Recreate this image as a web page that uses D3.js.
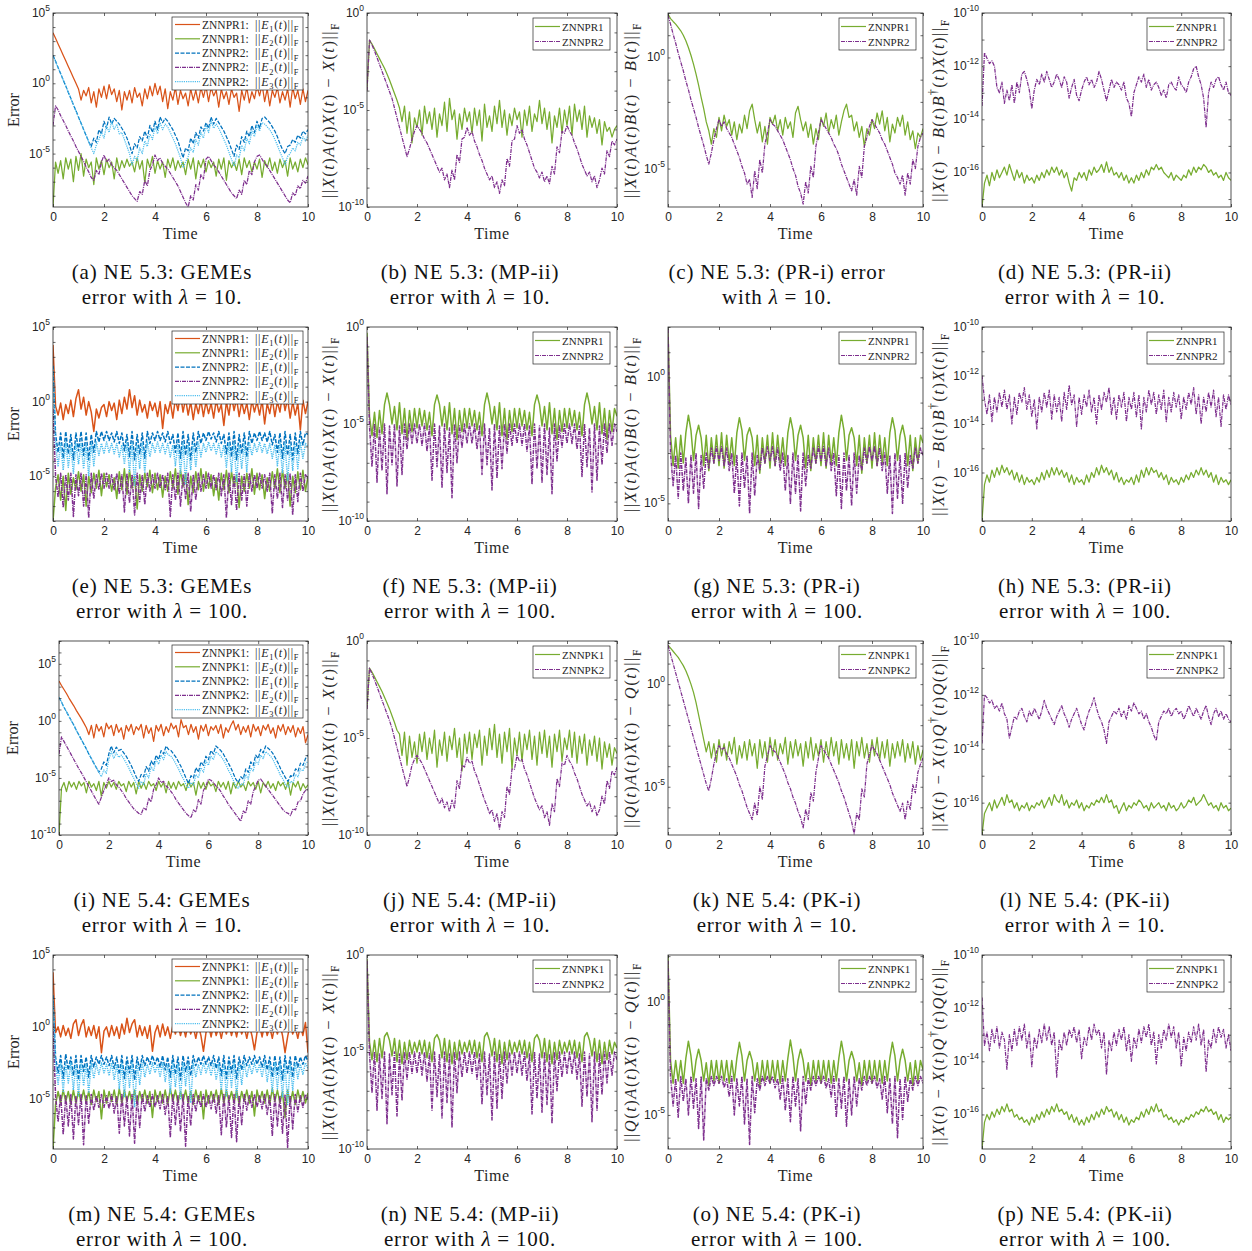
<!DOCTYPE html>
<html lang="en">
<head>
<meta charset="utf-8">
<title>ZNN error panels</title>
<script src="https://d3js.org/d3.v7.min.js"></script>
<style>
  body { margin: 0; background: #fff; }
  text { white-space: pre; }
</style>
</head>
<body>
<script>
// sample times 0..10 (step 0.1)
var T = d3.range(101).map(function(i) { return i / 10; });

// all series are log10 of the error, one value per sample time
// ---- (a) NE 5.3 GEMEs, lambda = 10
var a_o = [3.6,3.2,2.8,2.4,2.0,1.6,1.2,0.8,0.4,0.0,
  -0.4,-1.2,-0.5,-0.9,-0.3,-1.4,-0.6,-1.7,-0.4,-1.0,
  -0.2,-1.1,-0.1,-0.8,-0.4,-1.3,-0.5,-1.9,-0.6,-1.2,
  -0.5,-1.4,-0.3,-1.0,-0.7,-1.6,-0.4,-1.1,-0.2,-0.9,
  0.0,-0.8,-0.2,-1.3,-0.4,-1.8,-0.6,-1.2,-0.3,-1.5,
  -0.5,-1.1,-0.7,-1.6,-0.4,-1.2,-0.5,-1.4,-0.3,-1.0,
  -0.2,-1.3,-0.3,-0.9,-0.5,-1.7,-0.4,-1.1,-0.6,-1.5,
  -0.4,-1.0,-0.7,-2.0,-0.5,-1.2,-0.3,-1.4,-0.6,-1.1,
  -0.2,-0.9,-0.1,-1.3,-0.4,-1.6,-0.5,-1.0,-0.3,-1.4,
  -0.6,-1.2,-0.4,-1.7,-0.3,-1.1,-0.5,-1.5,-0.4,-1.3, -0.5];
var a_g = [-8.8,-5.6,-6.4,-5.5,-6.8,-5.3,-6.1,-5.4,-7.0,-5.2,
  -6.2,-5.0,-6.6,-5.4,-6.0,-5.6,-7.2,-5.3,-6.1,-5.5,
  -6.5,-5.4,-6.0,-5.6,-6.8,-5.3,-6.2,-5.5,-6.0,-5.4,
  -5.9,-5.6,-6.3,-5.3,-6.1,-5.5,-7.1,-5.4,-6.0,-5.2,
  -6.4,-5.5,-6.1,-5.6,-6.7,-5.4,-6.0,-5.3,-6.2,-5.5,
  -6.0,-5.6,-6.5,-5.4,-6.1,-5.3,-6.8,-5.5,-6.0,-5.4,
  -6.3,-5.5,-6.0,-5.6,-6.6,-5.4,-6.1,-5.3,-6.9,-5.5,
  -6.0,-5.6,-6.2,-5.4,-6.5,-5.3,-6.0,-5.5,-6.3,-5.6,
  -6.1,-5.4,-6.7,-5.5,-6.0,-5.3,-6.2,-5.6,-6.4,-5.4,
  -6.0,-5.5,-6.6,-5.3,-6.1,-5.6,-6.3,-5.4,-6.0,-5.3, -5.8];
var a_b = [2.0,1.56,1.12,0.68,0.24,-0.2,-0.64,-1.08,-1.52,-1.96,
  -2.4,-2.84,-3.28,-3.72,-4.16,-4.5,-3.9,-4.2,-3.3,-3.6,
  -2.7,-3.2,-2.4,-2.9,-2.5,-2.7,-2.9,-3.2,-3.5,-3.9,
  -4.4,-5.0,-4.3,-4.6,-3.8,-4.1,-3.4,-3.9,-3.0,-3.5,
  -2.7,-3.3,-2.4,-2.8,-2.5,-2.7,-3.0,-3.3,-3.7,-4.1,
  -4.7,-5.3,-4.6,-4.8,-3.9,-4.3,-3.5,-3.9,-3.1,-3.4,
  -2.8,-3.2,-2.4,-2.9,-2.5,-2.8,-3.1,-3.4,-3.8,-4.2,
  -4.7,-5.2,-4.4,-4.7,-3.8,-4.2,-3.4,-3.8,-3.0,-3.5,
  -2.7,-3.2,-2.5,-2.4,-2.6,-2.8,-3.1,-3.4,-3.8,-4.3,
  -4.7,-5.0,-4.5,-4.4,-4.0,-4.2,-3.7,-3.9,-3.4,-3.6, -3.3];
var a_p = [-3.0,-1.6,-1.9,-2.3,-2.65,-3.0,-3.4,-3.75,-4.1,-4.5,
  -4.85,-5.2,-5.55,-5.95,-6.3,-6.7,-6.9,-6.2,-6.5,-5.6,
  -5.1,-5.6,-5.4,-5.8,-6.0,-6.2,-6.5,-6.8,-7.1,-7.4,
  -7.7,-8.0,-8.2,-8.4,-7.7,-7.9,-6.9,-7.3,-6.2,-5.8,
  -5.1,-5.5,-5.3,-5.7,-5.9,-6.1,-6.4,-6.7,-7.0,-7.3,
  -7.7,-8.1,-8.5,-8.8,-8.0,-8.3,-7.2,-7.6,-6.5,-6.8,
  -5.4,-5.2,-5.5,-5.8,-6.0,-6.3,-6.6,-6.9,-7.2,-7.5,
  -7.8,-8.0,-8.2,-7.6,-7.9,-6.9,-7.2,-6.2,-6.5,-5.6,
  -5.2,-5.1,-5.4,-5.7,-5.9,-6.2,-6.5,-6.8,-7.1,-7.4,
  -7.7,-8.0,-8.3,-8.5,-7.8,-8.0,-7.3,-7.5,-6.9,-7.1, -6.6];
var a_c = [2.0,1.56,1.12,0.68,0.24,-0.2,-0.64,-1.08,-1.52,-1.96,
  -2.4,-2.84,-3.28,-3.72,-4.16,-4.6,-5.0,-4.4,-4.0,-3.5,
  -3.9,-3.0,-3.5,-2.7,-3.3,-2.9,-3.6,-3.5,-4.0,-4.5,
  -5.0,-5.8,-5.2,-5.5,-4.6,-5.0,-4.1,-4.5,-3.6,-4.0,
  -3.1,-3.6,-2.8,-3.3,-2.9,-3.1,-3.5,-3.9,-4.3,-4.8,
  -5.3,-6.0,-5.6,-5.2,-4.6,-4.9,-4.0,-4.4,-3.5,-3.9,
  -3.0,-3.5,-2.7,-3.2,-2.9,-3.2,-3.6,-4.0,-4.4,-4.9,
  -5.4,-5.9,-5.1,-5.3,-4.4,-4.8,-3.9,-4.3,-3.4,-3.8,
  -3.0,-3.4,-2.8,-2.9,-3.1,-3.3,-3.6,-4.0,-4.4,-4.9,
  -5.3,-5.8,-5.2,-5.0,-4.6,-4.8,-4.2,-4.4,-3.8,-4.1, -3.7];

// ---- (b) MP-ii, lambda = 10
var b_g = [-4.0,-1.4,-1.6,-1.85,-2.1,-2.35,-2.6,-2.85,-3.15,-3.45,
  -3.8,-4.15,-4.5,-4.9,-5.6,-4.8,-6.2,-5.1,-6.7,-5.4,
  -5.9,-5.0,-6.3,-4.8,-5.7,-5.1,-6.0,-4.9,-6.4,-5.2,
  -5.8,-4.6,-6.1,-4.4,-5.5,-5.0,-6.5,-5.2,-6.0,-4.9,
  -5.6,-5.1,-6.2,-4.9,-5.8,-5.0,-6.6,-4.7,-5.9,-5.3,
  -6.1,-4.8,-5.7,-4.5,-5.9,-5.0,-6.3,-5.2,-5.8,-4.9,
  -5.5,-5.1,-6.4,-5.0,-5.8,-4.8,-6.1,-5.2,-5.6,-4.5,
  -5.7,-4.9,-6.0,-5.1,-6.7,-5.3,-5.9,-4.9,-6.2,-5.0,
  -5.8,-4.8,-6.3,-4.7,-5.6,-5.0,-6.0,-4.8,-6.4,-5.3,
  -5.9,-5.4,-6.2,-5.5,-6.8,-5.6,-6.1,-5.9,-6.4,-6.0, -5.8];
var b_p = [-4.0,-1.4,-1.65,-1.95,-2.3,-2.65,-3.0,-3.35,-3.7,-4.05,
  -4.4,-4.9,-5.4,-5.9,-6.4,-6.9,-7.4,-7.0,-6.5,-6.1,
  -5.8,-6.0,-6.2,-6.5,-6.7,-7.0,-7.3,-7.6,-7.9,-8.2,
  -8.0,-8.6,-8.3,-9.0,-8.1,-8.6,-7.3,-7.7,-6.5,-6.4,
  -5.9,-6.3,-6.1,-6.6,-6.9,-7.3,-7.6,-8.0,-8.3,-8.6,
  -8.4,-9.0,-8.7,-9.3,-8.6,-8.9,-7.5,-7.9,-6.6,-6.5,
  -5.8,-6.2,-6.0,-6.5,-6.8,-7.2,-7.6,-8.0,-8.2,-8.5,
  -8.2,-8.7,-8.4,-8.8,-7.9,-8.3,-6.9,-7.2,-6.1,-6.2,
  -5.8,-6.1,-6.3,-6.7,-7.0,-7.4,-7.8,-8.1,-8.4,-8.2,
  -8.7,-8.4,-9.0,-8.6,-8.0,-8.3,-7.1,-7.4,-6.6,-6.8, -6.5];

// ---- (c) PR-i, lambda = 10
var c_g = [1.95,1.75,1.62,1.5,1.35,1.2,1.0,0.75,0.45,0.1,
  -0.3,-0.75,-1.25,-1.8,-2.3,-2.9,-3.3,-3.9,-3.2,-3.6,
  -2.7,-3.3,-2.6,-3.1,-2.8,-3.5,-2.9,-3.7,-3.0,-3.4,
  -2.6,-3.2,-2.4,-2.1,-2.8,-3.4,-2.9,-3.8,-3.1,-3.9,
  -2.7,-3.0,-2.6,-3.3,-2.8,-3.5,-2.7,-3.2,-2.9,-3.6,
  -2.5,-2.2,-2.8,-3.3,-2.9,-3.6,-3.0,-3.9,-3.2,-3.7,
  -2.7,-3.1,-2.5,-3.4,-2.8,-3.2,-2.6,-3.5,-2.9,-2.4,
  -2.1,-2.7,-2.6,-3.3,-2.9,-3.6,-3.1,-4.0,-3.2,-3.5,
  -2.8,-3.2,-2.5,-3.0,-2.4,-3.3,-2.7,-3.8,-3.0,-3.4,
  -2.7,-3.1,-2.6,-3.5,-2.9,-3.7,-3.3,-4.1,-3.4,-3.6, -3.2];
var c_p = [1.9,1.5,1.05,0.65,0.2,-0.2,-0.6,-1.05,-1.45,-1.9,
  -2.3,-2.7,-3.15,-3.55,-3.95,-4.4,-4.8,-4.3,-3.7,-3.2,
  -2.8,-3.1,-2.9,-3.2,-3.4,-3.6,-3.9,-4.2,-4.5,-4.9,
  -5.2,-5.7,-5.5,-6.3,-5.1,-5.9,-4.6,-5.2,-3.9,-3.4,
  -2.8,-3.0,-3.1,-3.3,-3.5,-3.7,-4.0,-4.3,-4.6,-5.0,
  -5.3,-5.8,-6.1,-6.6,-5.6,-6.1,-4.9,-5.4,-4.0,-3.4,
  -2.8,-3.0,-3.2,-3.4,-3.6,-3.9,-4.1,-4.4,-4.8,-5.1,
  -5.4,-5.7,-6.0,-5.5,-6.2,-4.9,-5.4,-4.0,-3.6,-3.1,
  -2.8,-3.0,-3.2,-3.4,-3.7,-3.9,-4.2,-4.5,-4.8,-5.2,
  -5.4,-5.7,-5.3,-6.2,-5.2,-5.7,-4.6,-5.0,-4.0,-3.6, -3.4];

// ---- (d) PR-ii, lambda = 10
var d_g = [-17.3,-16.4,-16.1,-16.5,-16.0,-16.3,-15.9,-16.2,-16.0,-15.8,
  -16.1,-15.7,-16.0,-16.3,-15.9,-16.2,-16.0,-16.4,-16.1,-16.3,
  -16.2,-16.4,-16.1,-16.3,-16.0,-16.2,-15.9,-16.1,-15.8,-16.0,
  -15.8,-16.1,-15.9,-16.2,-16.0,-16.4,-16.7,-16.2,-16.3,-16.0,
  -16.2,-16.0,-16.3,-15.9,-16.1,-15.8,-16.0,-15.9,-15.7,-16.0,
  -15.6,-16.0,-15.8,-16.1,-16.0,-16.2,-16.0,-16.3,-16.1,-16.4,
  -16.2,-16.4,-16.1,-16.3,-16.0,-16.2,-15.9,-16.1,-15.8,-15.9,
  -15.7,-15.9,-15.8,-16.0,-16.1,-16.2,-16.0,-16.3,-16.1,-16.2,
  -16.3,-16.1,-16.2,-15.9,-16.1,-15.8,-16.0,-15.8,-15.9,-15.7,
  -15.8,-16.0,-15.9,-16.1,-16.0,-16.2,-16.1,-16.3,-16.0,-16.2, -16.3];
var d_p = [-13.5,-11.5,-11.7,-11.9,-11.8,-12.0,-12.8,-13.0,-12.6,-13.4,
  -12.9,-13.3,-12.7,-13.4,-12.6,-13.0,-12.3,-12.2,-12.5,-12.9,
  -13.6,-12.9,-12.5,-12.7,-12.3,-12.6,-12.2,-12.5,-12.8,-12.6,
  -12.3,-12.5,-12.8,-12.4,-12.6,-13.2,-12.8,-12.5,-13.1,-13.3,
  -12.9,-12.6,-12.4,-12.7,-12.5,-12.8,-12.6,-12.2,-12.5,-12.9,
  -13.3,-12.9,-12.5,-12.8,-12.6,-12.7,-12.9,-12.6,-13.2,-13.4,
  -13.9,-13.0,-12.7,-12.4,-12.6,-12.3,-12.8,-12.5,-12.9,-12.7,
  -12.6,-12.8,-13.1,-12.9,-13.2,-12.7,-12.6,-12.8,-12.9,-12.4,
  -12.7,-12.8,-13.0,-12.6,-12.4,-12.1,-12.0,-12.4,-12.7,-13.2,
  -14.3,-13.0,-12.6,-12.8,-12.5,-12.4,-12.7,-12.9,-12.6,-13.0, -13.1];

// ---- (e) NE 5.3 GEMEs, lambda = 100
var e_o = [3.8,-0.3,-0.9,-0.1,-1.2,-0.2,-0.8,0.1,-1.0,0.2,
  0.8,-0.5,0.3,-0.9,0.0,-0.7,-2.0,-0.5,-1.1,-0.4,
  -0.2,-1.0,0.0,-0.6,-0.1,-1.2,0.1,-0.8,0.3,-0.5,
  0.8,-0.4,0.4,-0.9,0.1,-0.7,-0.2,-1.1,0.0,-0.6,
  -0.1,-1.0,0.0,-1.8,-0.2,-0.8,0.0,-1.1,0.2,-0.6,
  0.5,-0.7,0.2,-0.9,0.0,-1.2,-0.1,-0.8,0.1,-1.0,
  0.0,-0.8,-0.1,-1.1,0.1,-0.7,-0.2,-1.6,0.0,-0.9,
  0.4,-0.6,0.2,-1.0,0.0,-0.8,-0.1,-1.2,0.1,-0.7,
  0.0,-0.9,0.1,-1.5,-0.1,-0.8,0.2,-1.0,0.0,-0.7,
  0.5,-0.6,0.2,-1.1,0.0,-0.9,-0.1,-1.9,0.1,-0.8, 0.0];
var e_g = [-8.0,-5.8,-4.9,-6.6,-5.0,-7.3,-4.8,-6.2,-5.1,-5.9,
  -4.7,-6.0,-4.9,-7.0,-5.0,-6.1,-4.8,-5.8,-4.6,-6.3,
  -4.8,-5.7,-4.9,-6.0,-5.1,-6.5,-4.7,-5.9,-4.5,-6.2,
  -4.6,-5.8,-5.0,-7.2,-4.9,-6.0,-4.8,-5.7,-4.6,-6.1,
  -4.8,-5.9,-4.9,-6.4,-5.0,-6.0,-4.7,-5.8,-4.5,-6.2,
  -4.6,-5.7,-4.8,-6.9,-5.0,-6.1,-4.7,-5.9,-4.5,-6.0,
  -4.7,-5.8,-4.9,-6.3,-5.1,-6.6,-4.8,-5.9,-4.6,-6.1,
  -4.7,-5.7,-4.9,-7.1,-5.0,-6.0,-4.8,-5.8,-4.5,-6.2,
  -4.8,-5.9,-4.9,-6.5,-5.1,-6.0,-4.7,-5.8,-4.5,-6.1,
  -4.6,-5.8,-4.8,-7.0,-5.0,-6.1,-4.7,-5.9,-4.6,-6.0, -5.0];
var e_b = [2.4,-2.2,-3.4,-2.1,-3.8,-2.0,-3.5,-2.2,-3.9,-2.1,
  -3.3,-2.0,-3.6,-2.1,-3.9,-2.2,-3.4,-2.0,-2.7,-2.0,
  -2.6,-2.0,-2.6,-2.1,-2.7,-2.0,-2.8,-2.1,-3.3,-2.2,
  -3.7,-2.0,-3.9,-2.2,-3.5,-2.1,-3.8,-2.0,-2.8,-2.1,
  -2.6,-2.0,-2.6,-2.1,-2.7,-2.0,-2.8,-2.2,-3.4,-2.1,
  -3.8,-2.0,-3.6,-2.2,-3.9,-2.1,-3.4,-2.0,-2.8,-2.1,
  -2.6,-2.0,-2.5,-2.1,-2.7,-2.0,-2.8,-2.2,-3.5,-2.1,
  -3.7,-2.0,-3.9,-2.2,-3.5,-2.1,-3.7,-2.0,-2.8,-2.1,
  -2.6,-2.0,-2.6,-2.1,-2.7,-2.0,-2.9,-2.2,-3.4,-2.1,
  -3.8,-2.0,-3.6,-2.2,-3.9,-2.1,-3.5,-2.0,-2.9,-2.1, -2.2];
var e_p = [-0.5,-5.0,-6.4,-4.8,-7.1,-4.9,-6.6,-4.8,-7.7,-4.9,
  -6.3,-4.8,-7.0,-4.9,-7.8,-4.8,-6.5,-4.9,-5.9,-4.8,
  -5.8,-4.8,-5.8,-4.9,-5.9,-4.8,-6.2,-4.9,-7.4,-4.8,
  -6.8,-4.9,-7.6,-4.8,-6.7,-4.9,-6.9,-4.8,-6.0,-4.9,
  -5.8,-4.8,-5.8,-4.9,-5.9,-4.8,-7.7,-4.9,-6.6,-4.8,
  -7.0,-4.9,-6.5,-4.8,-7.4,-4.9,-6.6,-4.8,-6.0,-4.9,
  -5.8,-4.8,-5.8,-4.9,-5.9,-4.8,-6.3,-4.9,-7.8,-4.8,
  -6.9,-4.9,-7.3,-4.8,-6.6,-4.9,-7.0,-4.8,-6.0,-4.9,
  -5.8,-4.8,-5.8,-4.9,-6.0,-4.8,-7.5,-4.9,-6.5,-4.8,
  -7.1,-4.9,-6.6,-4.8,-7.6,-4.9,-6.7,-4.8,-6.0,-4.9, -5.2];
var e_c = [2.2,-2.9,-4.3,-2.8,-4.6,-2.7,-4.4,-2.9,-4.8,-2.8,
  -4.2,-2.8,-4.5,-2.9,-5.0,-2.8,-4.3,-2.7,-3.6,-2.8,
  -3.5,-2.7,-3.4,-2.8,-3.5,-2.8,-3.7,-2.9,-4.2,-2.8,
  -4.7,-2.8,-5.6,-2.9,-4.5,-2.8,-4.8,-2.7,-3.7,-2.8,
  -3.4,-2.7,-3.4,-2.8,-3.5,-2.8,-3.7,-2.9,-4.3,-2.8,
  -4.8,-2.8,-5.5,-2.9,-4.6,-2.8,-4.4,-2.7,-3.7,-2.8,
  -3.4,-2.7,-3.3,-2.8,-3.5,-2.8,-3.7,-2.9,-4.4,-2.8,
  -4.7,-2.8,-5.4,-2.9,-4.5,-2.8,-4.7,-2.7,-3.6,-2.8,
  -3.4,-2.7,-3.4,-2.8,-3.5,-2.8,-3.8,-2.9,-4.3,-2.8,
  -4.8,-2.8,-5.3,-2.9,-4.6,-2.8,-4.5,-2.7,-3.8,-2.8, -3.0];

// ---- (f) MP-ii, lambda = 100
var f_g = [-0.3,-4.6,-5.6,-4.4,-5.7,-4.3,-5.5,-4.0,-3.4,-4.0,
  -5.0,-4.1,-5.3,-3.9,-5.5,-4.2,-5.8,-4.3,-5.4,-4.2,
  -5.2,-4.2,-5.1,-4.3,-5.3,-4.4,-5.6,-4.0,-3.5,-4.0,
  -5.1,-4.1,-5.3,-3.9,-5.5,-4.2,-5.8,-4.3,-5.4,-4.2,
  -5.2,-4.2,-5.1,-4.3,-5.3,-4.4,-5.6,-4.0,-3.4,-4.0,
  -5.0,-4.1,-5.3,-3.9,-5.6,-4.2,-5.8,-4.3,-5.4,-4.2,
  -5.2,-4.2,-5.1,-4.3,-5.3,-4.4,-5.6,-4.0,-3.5,-4.0,
  -5.1,-4.1,-5.3,-3.9,-5.5,-4.2,-5.8,-4.3,-5.4,-4.2,
  -5.2,-4.2,-5.1,-4.3,-5.3,-4.4,-5.6,-4.0,-3.4,-4.0,
  -5.0,-4.1,-5.3,-3.9,-5.5,-4.2,-5.8,-4.3,-5.4,-4.2, -4.6];
var f_p = [-0.5,-5.1,-7.2,-5.0,-8.0,-5.2,-7.4,-5.0,-8.6,-5.1,
  -7.1,-5.0,-8.2,-5.1,-7.6,-5.0,-6.3,-5.0,-6.0,-5.0,
  -6.0,-5.0,-6.1,-5.0,-6.4,-5.1,-7.9,-5.0,-7.2,-5.1,
  -8.3,-5.0,-7.5,-5.2,-8.8,-5.0,-7.0,-5.1,-6.2,-5.0,
  -6.0,-5.0,-6.0,-5.0,-6.3,-5.1,-7.6,-5.0,-7.1,-5.2,
  -8.4,-5.0,-7.8,-5.1,-7.3,-5.0,-6.5,-5.0,-6.1,-5.0,
  -6.0,-5.0,-6.1,-5.0,-6.4,-5.1,-8.1,-5.0,-7.3,-5.1,
  -8.0,-5.0,-7.6,-5.2,-8.6,-5.0,-6.9,-5.1,-6.2,-5.0,
  -6.0,-5.0,-6.0,-5.0,-6.3,-5.1,-7.7,-5.0,-7.2,-5.2,
  -8.5,-5.0,-7.9,-5.1,-7.1,-5.0,-6.5,-5.0,-6.1,-5.0, -5.4];

// ---- (g) PR-i, lambda = 100
var g_g = [1.9,-2.3,-3.5,-2.4,-3.6,-2.3,-3.4,-2.2,-1.5,-2.1,
  -3.3,-2.3,-1.9,-2.4,-3.5,-2.3,-3.7,-2.4,-3.4,-2.3,
  -3.5,-2.2,-3.6,-2.3,-3.4,-2.4,-3.5,-2.2,-1.6,-2.1,
  -3.3,-2.3,-2.0,-2.4,-3.5,-2.3,-3.8,-2.4,-3.4,-2.3,
  -3.6,-2.2,-3.5,-2.3,-3.4,-2.4,-3.5,-2.2,-1.6,-2.1,
  -3.3,-2.3,-1.9,-2.4,-3.6,-2.3,-3.7,-2.4,-3.4,-2.3,
  -3.5,-2.2,-3.6,-2.3,-3.4,-2.4,-3.5,-2.2,-1.5,-2.1,
  -3.3,-2.3,-2.0,-2.4,-3.5,-2.3,-3.8,-2.4,-3.4,-2.3,
  -3.6,-2.2,-3.5,-2.3,-3.4,-2.4,-3.5,-2.2,-1.6,-2.1,
  -3.3,-2.3,-1.9,-2.4,-3.5,-2.3,-3.7,-2.4,-3.4,-2.3, -2.6];
var g_p = [1.9,-3.0,-4.3,-3.1,-4.8,-3.0,-4.5,-3.2,-5.0,-3.1,
  -4.6,-3.0,-5.2,-3.1,-4.4,-3.0,-3.6,-2.8,-3.4,-2.75,
  -3.3,-2.75,-3.5,-2.8,-3.7,-3.0,-4.6,-3.1,-5.1,-3.0,
  -4.4,-3.1,-5.4,-3.0,-4.7,-3.1,-3.7,-2.8,-3.4,-2.75,
  -3.3,-2.75,-3.5,-2.8,-3.7,-3.0,-4.5,-3.1,-5.0,-3.0,
  -4.6,-3.1,-5.3,-3.0,-4.3,-3.1,-3.6,-2.8,-3.4,-2.75,
  -3.3,-2.75,-3.5,-2.8,-3.7,-3.0,-4.7,-3.1,-5.2,-3.0,
  -4.5,-3.1,-5.1,-3.0,-4.6,-3.1,-3.7,-2.8,-3.4,-2.75,
  -3.3,-2.75,-3.5,-2.8,-3.7,-3.0,-4.6,-3.1,-5.4,-3.0,
  -4.8,-3.1,-5.0,-3.0,-4.4,-3.1,-3.6,-2.8,-3.4,-2.8, -3.1];

// ---- (h) PR-ii, lambda = 100
var h_g = [-18.0,-16.5,-16.1,-16.4,-15.9,-16.2,-15.8,-16.1,-15.7,-16.0,
  -15.8,-16.1,-15.9,-16.3,-16.0,-16.4,-16.1,-16.5,-16.2,-16.4,
  -16.3,-16.5,-16.2,-16.4,-16.0,-16.3,-15.9,-16.2,-15.8,-16.1,
  -15.8,-16.1,-15.9,-16.2,-16.0,-16.4,-16.1,-16.5,-16.2,-16.4,
  -16.3,-16.5,-16.1,-16.4,-16.0,-16.2,-15.8,-16.1,-15.7,-16.0,
  -15.8,-16.1,-15.9,-16.3,-16.0,-16.4,-16.2,-16.5,-16.3,-16.4,
  -16.2,-16.5,-16.1,-16.4,-15.9,-16.2,-15.8,-16.1,-15.8,-16.0,
  -15.9,-16.2,-16.0,-16.3,-16.1,-16.5,-16.2,-16.4,-16.3,-16.5,
  -16.2,-16.4,-16.1,-16.3,-16.0,-16.2,-15.9,-16.1,-15.8,-16.1,
  -15.9,-16.2,-16.0,-16.4,-16.1,-16.5,-16.2,-16.4,-16.3,-16.5, -16.3];
var h_p = [-12.0,-13.0,-13.6,-12.8,-13.9,-12.9,-13.5,-12.7,-13.3,-12.6,
  -13.4,-12.8,-14.0,-12.9,-13.6,-12.7,-13.1,-12.5,-13.4,-12.8,
  -13.7,-13.0,-14.2,-12.9,-13.5,-12.7,-13.3,-12.6,-13.8,-12.8,
  -13.5,-12.9,-13.9,-12.7,-13.4,-12.4,-13.2,-12.8,-14.1,-12.9,
  -13.6,-12.8,-13.3,-12.6,-13.5,-12.9,-14.0,-12.8,-13.4,-12.7,
  -13.1,-12.5,-13.6,-12.9,-13.8,-12.8,-13.3,-12.7,-13.9,-12.9,
  -13.4,-12.7,-13.7,-12.8,-14.2,-12.9,-13.5,-12.6,-13.2,-12.7,
  -13.6,-12.8,-13.4,-12.6,-13.9,-12.9,-13.5,-12.7,-13.3,-12.8,
  -13.8,-12.9,-13.4,-12.7,-13.2,-12.5,-13.6,-12.8,-14.0,-12.9,
  -13.5,-12.7,-13.3,-12.6,-13.7,-12.9,-14.1,-12.8,-13.4,-12.8, -13.2];

// ---- (i) NE 5.4 GEMEs, lambda = 10
var i_o = [3.5,3.1,2.75,2.4,2.0,1.65,1.3,0.9,0.55,0.2,
  -0.2,-0.6,-1.2,-0.4,-1.5,-0.3,-0.9,-0.5,-1.4,-0.2,
  -0.7,-0.4,-1.3,-0.3,-1.0,-0.6,-1.6,-0.4,-0.9,-0.3,
  -1.2,-0.5,-0.8,-0.3,-1.5,-0.4,-1.1,-0.6,-1.8,-0.4,
  -0.9,-0.3,-1.3,-0.5,-1.0,-0.2,-0.7,-0.4,-1.4,0.1,
  -0.6,-0.4,-1.2,-0.3,-1.0,-0.5,-1.6,-0.4,-0.9,-0.3,
  -1.3,-0.5,-0.8,-0.4,-1.1,-0.3,-1.5,-0.6,-1.0,-0.4,
  0.0,-0.8,-0.3,-1.2,-0.5,-1.0,-0.4,-1.4,-0.3,-0.9,
  -0.5,-1.3,-0.4,-0.8,-0.3,-1.1,-0.6,-1.5,-0.4,-0.9,
  -0.3,-1.2,-0.5,-1.0,-0.4,-1.4,-0.6,-1.1,-0.5,-1.9, -1.2];
var i_g = [-10.0,-5.9,-5.4,-6.2,-5.3,-5.8,-5.4,-6.0,-5.3,-5.7,
  -5.4,-6.3,-5.3,-5.8,-5.5,-6.1,-5.3,-6.6,-5.4,-5.9,
  -5.3,-5.8,-5.4,-6.0,-5.3,-5.7,-5.5,-6.2,-5.3,-5.8,
  -5.4,-6.4,-5.3,-5.9,-5.4,-6.0,-5.3,-5.7,-5.5,-6.1,
  -5.3,-5.8,-5.4,-6.3,-5.3,-5.9,-5.4,-6.0,-5.3,-5.7,
  -5.5,-6.1,-5.3,-5.8,-5.4,-6.5,-5.3,-5.9,-5.4,-6.0,
  -5.3,-5.7,-5.5,-6.2,-5.3,-5.8,-5.4,-6.0,-5.3,-6.4,
  -5.4,-5.9,-5.3,-5.8,-5.5,-6.1,-5.3,-5.7,-5.4,-6.0,
  -5.3,-6.3,-5.4,-5.8,-5.3,-5.9,-5.5,-6.1,-5.3,-5.7,
  -5.4,-6.0,-5.3,-6.5,-5.4,-5.8,-5.3,-6.1,-5.5,-5.9, -5.6];
var i_b = [2.05,1.65,1.2,0.8,0.4,0.0,-0.4,-0.85,-1.25,-1.65,
  -2.05,-2.45,-2.9,-3.3,-3.7,-4.1,-4.5,-4.2,-3.6,-3.9,
  -2.9,-2.2,-2.8,-2.3,-2.6,-2.5,-2.8,-3.1,-3.5,-3.9,
  -4.4,-4.9,-5.3,-4.7,-4.9,-4.0,-4.4,-3.5,-3.9,-3.0,
  -3.4,-2.6,-2.9,-2.2,-2.5,-2.6,-2.9,-3.2,-3.6,-4.0,
  -4.5,-5.0,-5.5,-4.8,-5.0,-4.1,-4.5,-3.6,-3.9,-3.1,
  -3.4,-2.6,-2.9,-2.2,-2.4,-2.6,-2.9,-3.3,-3.7,-4.1,
  -4.6,-5.1,-5.4,-4.9,-5.1,-4.2,-4.5,-3.6,-3.9,-3.0,
  -3.3,-2.5,-2.8,-2.2,-2.4,-2.6,-2.9,-3.3,-3.7,-4.2,
  -4.6,-5.0,-5.3,-4.8,-4.9,-4.2,-4.4,-3.7,-3.9,-3.3, -3.0];
var i_p = [-2.9,-1.4,-1.8,-2.2,-2.6,-3.0,-3.4,-3.8,-4.2,-4.55,
  -4.95,-5.35,-5.75,-6.15,-6.55,-6.95,-7.3,-6.7,-6.1,-5.6,
  -5.0,-5.3,-5.2,-5.6,-5.8,-6.1,-6.4,-6.8,-7.1,-7.4,
  -7.7,-7.9,-8.1,-8.2,-7.6,-7.8,-6.8,-7.1,-6.0,-5.6,
  -5.0,-5.4,-5.3,-5.7,-5.9,-6.2,-6.5,-6.9,-7.2,-7.5,
  -7.8,-8.1,-8.3,-8.5,-7.8,-8.0,-6.9,-7.3,-6.1,-5.7,
  -5.1,-5.2,-5.4,-5.7,-5.9,-6.2,-6.6,-6.9,-7.3,-7.6,
  -7.9,-8.2,-8.5,-8.8,-7.9,-8.1,-7.0,-7.3,-6.2,-5.7,
  -5.2,-5.1,-5.4,-5.7,-6.0,-6.3,-6.6,-6.9,-7.2,-7.5,
  -7.8,-8.0,-8.1,-8.3,-7.7,-7.8,-7.1,-7.0,-6.4,-6.1, -6.0];
var i_c = [2.05,1.65,1.2,0.8,0.4,0.0,-0.4,-0.85,-1.25,-1.65,
  -2.05,-2.45,-2.9,-3.3,-3.7,-4.1,-4.5,-4.9,-4.3,-4.6,
  -3.4,-2.7,-3.3,-2.8,-3.2,-3.0,-3.3,-3.7,-4.1,-4.6,
  -5.0,-5.5,-5.9,-5.3,-5.6,-4.6,-5.0,-4.0,-4.4,-3.4,
  -3.8,-3.0,-3.4,-2.7,-3.0,-3.1,-3.4,-3.8,-4.2,-4.7,
  -5.1,-5.6,-5.9,-5.4,-5.6,-4.7,-5.0,-4.1,-4.5,-3.5,
  -3.9,-3.1,-3.4,-2.7,-2.9,-3.1,-3.4,-3.8,-4.3,-4.7,
  -5.2,-5.7,-5.9,-5.5,-5.6,-4.7,-5.1,-4.1,-4.4,-3.5,
  -3.8,-3.0,-3.3,-2.7,-2.9,-3.1,-3.4,-3.9,-4.3,-4.8,
  -5.1,-5.6,-5.8,-5.3,-5.4,-4.7,-4.9,-4.2,-4.4,-3.8, -3.5];

// ---- (j) MP-ii, lambda = 10
var j_g = [-3.5,-1.4,-1.6,-1.85,-2.1,-2.35,-2.6,-2.9,-3.2,-3.5,
  -3.85,-4.2,-4.6,-4.8,-5.9,-4.7,-6.4,-4.9,-6.0,-5.2,
  -6.3,-4.8,-5.7,-4.7,-6.1,-5.0,-5.8,-4.6,-6.5,-5.1,
  -5.9,-4.7,-6.2,-4.9,-5.6,-4.5,-6.0,-5.0,-6.7,-4.8,
  -5.8,-4.7,-6.1,-4.8,-5.5,-4.6,-6.4,-4.9,-5.9,-4.5,
  -5.6,-4.3,-6.0,-4.8,-6.3,-4.7,-5.7,-4.5,-6.6,-5.0,
  -5.9,-4.7,-6.2,-4.8,-5.6,-4.6,-6.1,-4.9,-6.4,-4.7,
  -5.8,-4.6,-6.0,-4.9,-6.5,-4.8,-5.7,-4.6,-6.2,-5.0,
  -5.6,-4.6,-6.0,-4.7,-6.3,-4.9,-5.8,-4.8,-6.4,-5.1,
  -5.9,-4.9,-6.2,-5.0,-6.6,-5.2,-6.0,-5.3,-6.4,-5.5, -5.8];
var j_p = [-3.5,-1.4,-1.7,-2.0,-2.35,-2.7,-3.05,-3.4,-3.75,-4.1,
  -4.5,-5.0,-5.5,-6.0,-6.5,-7.0,-7.5,-7.0,-6.4,-6.1,
  -5.9,-6.1,-6.3,-6.6,-6.9,-7.2,-7.5,-7.8,-8.1,-8.4,
  -8.1,-8.6,-8.3,-8.8,-8.2,-8.6,-7.2,-7.6,-6.4,-6.5,
  -6.0,-6.3,-6.2,-6.7,-7.0,-7.4,-7.8,-8.2,-8.5,-8.9,
  -8.7,-9.3,-8.9,-9.7,-8.8,-9.1,-7.5,-7.9,-6.6,-6.6,
  -5.9,-6.2,-6.1,-6.6,-6.9,-7.3,-7.7,-8.1,-8.4,-8.7,
  -8.5,-9.1,-8.8,-9.5,-8.4,-8.8,-7.1,-7.5,-6.3,-6.4,
  -5.9,-6.2,-6.4,-6.8,-7.1,-7.5,-7.9,-8.2,-8.5,-8.3,
  -8.8,-8.5,-9.0,-8.7,-8.0,-8.4,-7.2,-7.6,-6.7,-6.9, -6.5];

// ---- (k) PK-i, lambda = 10
var k_g = [1.9,1.75,1.6,1.45,1.3,1.1,0.9,0.65,0.35,0.0,
  -0.4,-0.9,-1.5,-2.1,-2.7,-3.3,-2.8,-3.6,-2.9,-3.8,
  -2.7,-3.5,-2.9,-3.7,-2.8,-3.4,-2.6,-3.9,-3.0,-3.6,
  -2.8,-3.7,-2.7,-3.5,-2.9,-4.1,-2.7,-3.6,-2.8,-3.8,
  -2.6,-3.5,-2.7,-3.7,-2.9,-3.4,-2.6,-3.9,-2.8,-3.6,
  -2.7,-3.5,-2.9,-4.0,-2.8,-3.6,-2.6,-3.7,-2.9,-3.5,
  -2.7,-3.8,-2.8,-3.6,-2.6,-3.5,-2.8,-3.9,-2.7,-3.6,
  -2.9,-3.7,-2.7,-4.1,-2.8,-3.5,-2.6,-3.6,-2.9,-3.8,
  -2.7,-3.5,-2.6,-3.7,-2.8,-3.6,-2.7,-4.0,-2.9,-3.6,
  -2.8,-3.5,-2.7,-3.8,-2.9,-3.6,-2.8,-3.9,-3.0,-3.7, -3.2];
var k_p = [1.9,1.45,1.0,0.55,0.1,-0.35,-0.8,-1.25,-1.7,-2.15,
  -2.6,-3.05,-3.5,-3.95,-4.4,-4.85,-5.2,-4.6,-3.9,-3.3,
  -3.0,-3.2,-3.1,-3.4,-3.6,-3.9,-4.2,-4.5,-4.9,-5.2,
  -5.6,-6.0,-6.3,-6.6,-5.8,-6.4,-5.0,-5.6,-4.0,-3.5,
  -3.0,-3.2,-3.3,-3.5,-3.8,-4.1,-4.4,-4.8,-5.1,-5.5,
  -5.8,-6.2,-6.5,-7.0,-6.1,-6.6,-5.3,-5.7,-4.3,-3.6,
  -3.0,-3.2,-3.4,-3.6,-3.9,-4.2,-4.5,-4.8,-5.2,-5.5,
  -5.9,-6.3,-6.7,-7.3,-6.3,-6.6,-5.1,-5.5,-3.9,-3.4,
  -3.0,-3.2,-3.4,-3.7,-4.0,-4.3,-4.6,-4.9,-5.3,-5.6,
  -5.9,-6.2,-5.8,-6.6,-5.7,-6.1,-4.9,-5.3,-4.3,-3.9, -3.6];

// ---- (l) PK-ii, lambda = 10
var l_g = [-17.2,-16.4,-16.2,-16.0,-16.3,-15.9,-16.2,-16.0,-15.8,-16.1,
  -15.7,-16.0,-15.9,-16.2,-16.0,-16.3,-16.1,-16.2,-16.0,-16.3,
  -16.1,-16.2,-16.0,-16.1,-15.9,-16.2,-16.0,-15.8,-16.1,-15.7,
  -15.9,-16.0,-15.7,-16.1,-15.9,-16.2,-16.0,-16.1,-15.9,-16.2,
  -16.0,-16.3,-16.1,-16.2,-16.0,-16.1,-15.9,-16.0,-15.8,-16.0,
  -15.7,-16.0,-15.9,-16.2,-16.1,-16.4,-16.2,-16.0,-16.3,-16.1,
  -16.2,-16.0,-16.1,-15.9,-16.0,-16.2,-16.1,-16.3,-16.0,-16.2,
  -16.1,-16.0,-16.2,-16.1,-16.3,-16.0,-16.2,-16.1,-16.3,-16.2,
  -16.0,-16.2,-16.1,-15.9,-16.0,-15.8,-16.1,-16.0,-15.9,-15.7,
  -15.9,-16.1,-16.0,-16.2,-16.1,-16.3,-16.0,-16.2,-16.1,-16.3, -16.2];
var l_p = [-13.8,-12.0,-12.1,-12.3,-12.2,-12.5,-12.4,-12.6,-12.3,-12.7,
  -12.9,-13.6,-13.2,-12.8,-12.9,-12.6,-12.5,-12.8,-13.0,-12.6,
  -12.8,-12.5,-12.7,-12.9,-12.6,-12.2,-12.5,-12.7,-12.9,-13.1,
  -12.8,-12.6,-12.4,-12.7,-12.9,-13.2,-12.9,-12.7,-12.5,-12.8,
  -13.1,-13.3,-12.9,-12.6,-12.4,-12.1,-12.5,-12.8,-13.0,-13.3,
  -13.8,-13.0,-12.8,-12.6,-12.7,-12.5,-12.8,-12.6,-12.9,-12.4,
  -12.6,-12.3,-12.5,-12.7,-12.6,-12.9,-12.7,-13.0,-13.2,-13.5,
  -13.7,-13.0,-12.8,-12.6,-12.7,-12.5,-12.8,-12.6,-12.5,-12.7,
  -12.6,-12.9,-12.7,-12.4,-12.6,-12.8,-12.5,-12.7,-12.9,-12.6,
  -12.4,-12.8,-13.1,-12.7,-12.5,-12.8,-12.6,-12.9,-12.7,-12.9, -13.0];

// ---- (m) NE 5.4 GEMEs, lambda = 100
var m_o = [3.8,-0.4,0.0,-0.7,0.1,-0.6,-0.1,-0.8,0.2,0.5,
  -0.6,0.1,0.5,-0.7,0.0,-0.6,0.1,-0.8,0.0,-1.8,
  -0.3,0.0,-0.7,0.1,-0.6,0.0,-0.8,0.2,-0.5,0.6,
  -0.4,0.2,0.5,-0.7,0.1,-0.6,0.0,-0.8,0.1,-1.7,
  -0.4,0.1,-0.7,0.2,-0.6,0.0,-0.8,0.1,-0.5,0.2,
  -0.6,0.1,-0.7,0.2,-0.5,0.0,-0.8,0.1,-0.6,-1.7,
  -0.4,0.1,-0.7,0.2,-0.6,0.0,-0.8,0.1,-0.5,0.2,
  -0.6,0.1,-0.7,0.2,-0.5,0.0,-0.8,0.1,-0.6,-1.6,
  -0.4,0.1,-0.7,0.2,-0.6,0.0,-0.8,0.1,-0.5,0.2,
  -0.6,-1.8,-0.7,0.2,-0.5,0.0,-0.8,0.1,-0.6,0.3, -1.8];
var m_g = [-8.5,-5.4,-4.5,-5.3,-4.4,-5.2,-4.5,-5.4,-4.4,-5.3,
  -4.5,-5.2,-4.4,-5.3,-4.5,-5.4,-4.4,-5.2,-4.5,-6.4,
  -4.4,-5.3,-4.5,-5.2,-4.4,-5.4,-4.3,-5.3,-4.4,-5.2,
  -4.5,-5.3,-4.4,-5.4,-4.5,-5.2,-4.4,-5.3,-4.5,-6.3,
  -4.4,-5.2,-4.5,-5.3,-4.4,-5.4,-4.3,-5.2,-4.4,-5.3,
  -4.5,-5.2,-4.4,-5.3,-4.5,-5.4,-4.4,-5.2,-4.5,-6.4,
  -4.4,-5.3,-4.5,-5.2,-4.4,-5.4,-4.3,-5.3,-4.4,-5.2,
  -4.5,-5.3,-4.4,-5.4,-4.5,-5.2,-4.4,-5.3,-4.5,-6.2,
  -4.4,-5.2,-4.5,-5.3,-4.4,-5.4,-4.3,-5.2,-4.4,-5.3,
  -4.5,-6.3,-4.4,-5.3,-4.5,-5.4,-4.4,-5.2,-4.5,-5.3, -4.6];
var m_b = [2.2,-2.1,-3.2,-2.0,-3.6,-1.9,-3.0,-2.1,-3.4,-2.0,
  -3.7,-2.0,-3.1,-2.1,-3.5,-2.0,-2.8,-2.1,-2.6,-2.0,
  -2.6,-2.1,-2.7,-2.0,-2.9,-2.1,-3.3,-2.0,-3.6,-2.1,
  -3.2,-2.0,-3.7,-2.1,-3.0,-2.0,-2.7,-2.1,-2.6,-2.0,
  -2.6,-2.1,-2.8,-2.0,-3.0,-2.1,-3.5,-2.0,-3.3,-2.1,
  -3.7,-2.0,-3.1,-2.1,-3.4,-2.0,-2.7,-2.1,-2.6,-2.0,
  -2.6,-2.1,-2.7,-2.0,-2.9,-2.1,-3.4,-2.0,-3.6,-2.1,
  -3.2,-2.0,-3.6,-2.1,-3.0,-2.0,-2.7,-2.1,-2.6,-2.0,
  -2.6,-2.1,-2.8,-2.0,-3.0,-2.1,-3.5,-2.0,-3.3,-2.1,
  -3.7,-2.0,-3.2,-2.1,-3.5,-2.0,-2.8,-2.1,-2.6,-2.0, -2.4];
var m_p = [0.2,-4.8,-6.6,-4.7,-7.5,-4.8,-6.9,-4.7,-7.8,-4.8,
  -6.8,-4.7,-8.2,-4.8,-6.7,-4.7,-5.8,-4.8,-5.6,-4.7,
  -5.6,-4.8,-5.7,-4.7,-6.0,-4.8,-7.4,-4.7,-6.9,-4.8,
  -7.6,-4.7,-8.1,-4.8,-7.0,-4.7,-5.9,-4.8,-5.6,-4.7,
  -5.6,-4.8,-5.7,-4.7,-6.1,-4.8,-7.7,-4.7,-6.8,-4.8,
  -7.3,-4.7,-8.3,-4.8,-6.9,-4.7,-5.9,-4.8,-5.6,-4.7,
  -5.6,-4.8,-5.7,-4.7,-6.0,-4.8,-7.5,-4.7,-7.0,-4.8,
  -7.7,-4.7,-8.0,-4.8,-6.8,-4.7,-5.8,-4.8,-5.6,-4.7,
  -5.6,-4.8,-5.7,-4.7,-6.1,-4.8,-7.6,-4.7,-6.9,-4.8,
  -7.4,-4.7,-8.4,-4.8,-7.1,-4.7,-5.9,-4.8,-5.6,-4.7, -5.0];
var m_c = [2.0,-2.6,-4.0,-2.5,-4.5,-2.6,-3.9,-2.5,-4.4,-2.6,
  -4.8,-2.5,-4.1,-2.6,-4.6,-2.5,-3.6,-2.6,-3.3,-2.5,
  -3.2,-2.6,-3.4,-2.5,-3.7,-2.6,-4.3,-2.5,-4.9,-2.6,
  -4.2,-2.5,-5.6,-2.6,-4.0,-2.5,-3.5,-2.6,-3.3,-2.5,
  -3.2,-2.6,-3.5,-2.5,-3.8,-2.6,-4.6,-2.5,-4.2,-2.6,
  -5.0,-2.5,-4.1,-2.6,-5.3,-2.5,-3.5,-2.6,-3.3,-2.5,
  -3.2,-2.6,-3.4,-2.5,-3.7,-2.6,-4.4,-2.5,-4.8,-2.6,
  -4.2,-2.5,-4.9,-2.6,-4.0,-2.5,-3.5,-2.6,-3.3,-2.5,
  -3.2,-2.6,-3.5,-2.5,-3.8,-2.6,-4.5,-2.5,-4.3,-2.6,
  -4.9,-2.5,-5.4,-2.6,-4.4,-2.5,-3.6,-2.6,-3.3,-2.5, -2.9];

// ---- (n) MP-ii, lambda = 100
var n_g = [-0.2,-4.5,-5.4,-4.4,-5.5,-4.3,-5.3,-4.2,-4.0,-4.4,
  -5.2,-4.3,-5.5,-4.4,-5.6,-4.5,-5.4,-4.4,-5.1,-4.5,
  -5.0,-4.4,-5.1,-4.4,-5.3,-4.5,-5.5,-4.3,-4.1,-4.4,
  -5.3,-4.3,-5.5,-4.4,-5.6,-4.5,-5.4,-4.4,-5.1,-4.5,
  -5.0,-4.4,-5.1,-4.4,-5.3,-4.5,-5.5,-4.2,-4.0,-4.4,
  -5.2,-4.3,-5.5,-4.4,-5.6,-4.5,-5.4,-4.4,-5.1,-4.5,
  -5.0,-4.4,-5.1,-4.4,-5.3,-4.5,-5.5,-4.3,-4.1,-4.4,
  -5.3,-4.3,-5.5,-4.4,-5.6,-4.5,-5.4,-4.4,-5.1,-4.5,
  -5.0,-4.4,-5.1,-4.4,-5.3,-4.5,-5.5,-4.2,-4.0,-4.4,
  -5.2,-4.3,-5.5,-4.4,-5.6,-4.5,-5.4,-4.4,-5.1,-4.5, -4.8];
var n_p = [-0.3,-5.1,-7.1,-5.0,-8.0,-5.1,-7.4,-5.0,-8.7,-5.1,
  -7.2,-5.0,-8.3,-5.1,-7.5,-5.0,-6.4,-5.0,-6.1,-5.0,
  -6.1,-5.0,-6.2,-5.0,-6.5,-5.1,-8.0,-5.0,-7.3,-5.1,
  -8.4,-5.0,-7.6,-5.1,-8.9,-5.0,-7.1,-5.0,-6.3,-5.0,
  -6.1,-5.0,-6.1,-5.0,-6.4,-5.1,-7.7,-5.0,-7.2,-5.1,
  -8.5,-5.0,-7.9,-5.1,-7.4,-5.0,-6.6,-5.0,-6.2,-5.0,
  -6.1,-5.0,-6.2,-5.0,-6.5,-5.1,-8.2,-5.0,-7.4,-5.1,
  -8.1,-5.0,-7.7,-5.1,-8.7,-5.0,-7.0,-5.0,-6.3,-5.0,
  -6.1,-5.0,-6.1,-5.0,-6.4,-5.1,-7.8,-5.0,-7.3,-5.1,
  -8.6,-5.0,-8.0,-5.1,-7.2,-5.0,-6.6,-5.0,-6.2,-5.0, -5.4];

// ---- (o) PK-i, lambda = 100
var o_g = [2.0,-2.6,-3.6,-2.6,-3.5,-2.6,-3.6,-2.5,-1.75,-2.4,
  -3.5,-2.6,-2.1,-2.6,-3.5,-2.7,-3.7,-2.6,-3.5,-2.6,
  -3.6,-2.6,-3.5,-2.6,-3.6,-2.6,-3.5,-2.5,-1.8,-2.4,
  -3.5,-2.6,-2.2,-2.6,-3.5,-2.7,-3.7,-2.6,-3.5,-2.6,
  -3.6,-2.6,-3.5,-2.6,-3.6,-2.6,-3.5,-2.5,-1.7,-2.4,
  -3.5,-2.6,-2.1,-2.6,-3.5,-2.7,-3.7,-2.6,-3.5,-2.6,
  -3.6,-2.6,-3.5,-2.6,-3.6,-2.6,-3.5,-2.5,-1.75,-2.4,
  -3.5,-2.6,-2.2,-2.6,-3.5,-2.7,-3.7,-2.6,-3.5,-2.6,
  -3.6,-2.6,-3.5,-2.6,-3.6,-2.6,-3.5,-2.5,-1.8,-2.4,
  -3.5,-2.6,-2.1,-2.6,-3.5,-2.7,-3.7,-2.6,-3.5,-2.6, -3.0];
var o_p = [1.8,-3.3,-4.6,-3.4,-5.1,-3.3,-4.4,-3.4,-5.0,-3.3,
  -4.7,-3.4,-5.6,-3.3,-6.1,-3.4,-3.9,-3.3,-3.7,-3.3,
  -3.6,-3.3,-3.8,-3.4,-4.2,-3.3,-5.0,-3.4,-4.6,-3.3,
  -5.4,-3.4,-6.3,-3.3,-4.9,-3.4,-3.9,-3.3,-3.7,-3.3,
  -3.6,-3.3,-3.8,-3.4,-4.3,-3.3,-4.8,-3.4,-5.3,-3.3,
  -4.6,-3.4,-5.7,-3.3,-4.5,-3.4,-3.9,-3.3,-3.7,-3.3,
  -3.6,-3.3,-3.8,-3.4,-4.2,-3.3,-5.1,-3.4,-4.7,-3.3,
  -5.5,-3.4,-5.0,-3.3,-4.6,-3.4,-3.9,-3.3,-3.7,-3.3,
  -3.6,-3.3,-3.8,-3.4,-4.3,-3.3,-4.9,-3.4,-5.4,-3.3,
  -6.0,-3.4,-5.2,-3.3,-4.4,-3.4,-3.9,-3.3,-3.7,-3.3, -3.6];

// ---- (p) PK-ii, lambda = 100
var p_g = [-17.3,-16.3,-16.0,-16.2,-15.9,-16.1,-15.8,-16.0,-15.7,-15.9,
  -15.6,-15.9,-15.8,-16.1,-16.0,-16.2,-16.1,-16.3,-16.2,-16.4,
  -16.1,-16.3,-16.0,-16.2,-15.9,-16.1,-15.8,-16.0,-15.7,-15.9,
  -15.6,-15.9,-15.8,-16.0,-15.9,-16.2,-16.0,-16.3,-16.1,-16.4,
  -16.2,-16.4,-16.1,-16.3,-16.0,-16.2,-15.9,-16.1,-15.8,-16.0,
  -15.7,-15.9,-15.8,-16.1,-15.9,-16.2,-16.0,-16.3,-16.1,-16.4,
  -16.2,-16.3,-16.1,-16.2,-15.9,-16.1,-15.8,-16.0,-15.7,-15.9,
  -15.6,-15.9,-15.8,-16.1,-16.0,-16.2,-16.1,-16.3,-16.2,-16.4,
  -16.2,-16.3,-16.1,-16.2,-16.0,-16.1,-15.9,-16.0,-15.8,-15.9,
  -15.7,-15.9,-15.8,-16.0,-15.9,-16.2,-16.0,-16.3,-16.1,-16.2, -16.1];
var p_p = [-11.6,-13.4,-12.9,-13.6,-12.8,-13.3,-12.7,-13.5,-12.9,-13.2,
  -14.3,-13.0,-13.6,-12.8,-13.4,-12.7,-13.2,-12.6,-13.5,-12.9,
  -14.2,-13.1,-13.5,-12.8,-13.3,-12.6,-13.2,-12.7,-13.4,-12.9,
  -14.6,-13.2,-13.6,-12.9,-13.4,-12.8,-13.1,-12.7,-13.3,-12.8,
  -13.9,-13.1,-13.4,-12.7,-13.2,-12.6,-13.0,-12.8,-13.5,-12.9,
  -14.5,-13.2,-13.6,-12.9,-13.4,-12.8,-13.2,-12.7,-13.6,-13.0,
  -14.0,-13.1,-13.5,-12.8,-13.3,-12.7,-13.1,-12.6,-13.4,-12.9,
  -14.1,-13.0,-13.5,-12.8,-13.2,-12.6,-13.1,-12.7,-13.5,-12.9,
  -14.2,-13.1,-13.6,-12.9,-13.3,-12.7,-13.2,-12.6,-13.4,-12.8,
  -14.4,-13.2,-13.5,-12.8,-13.3,-12.7,-13.1,-12.8,-13.5,-13.0, -13.6];

var xTicks = [0, 2, 4, 6, 8, 10];

// line styles (MATLAB default palette)
var sty = {
  o: { color: "#D95319", dash: null },
  g: { color: "#77AC30", dash: null },
  b: { color: "#0072BD", dash: "4,1.5" },
  p: { color: "#7E2F8E", dash: "4,1,1,1" },
  c: { color: "#4DBEEE", dash: "1.2,1" }
};

var lab53 = "||X(t)A(t)X(t) \u2212 X(t)||_F";
var panels = [
  { r:0, c:0, dom:[-8.8,5],   ticks:[5,0,-5],         yl:"Error", fam:"PR", cap:["(a) NE 5.3: GEMEs","error with λ = 10."],  s:[["o",a_o],["g",a_g],["b",a_b],["p",a_p],["c",a_c]] },
  { r:0, c:1, dom:[-10,0],    ticks:[0,-5,-10],       yl:lab53, fam:"PR", cap:["(b) NE 5.3: (MP-ii)","error with λ = 10."], s:[["g",b_g],["p",b_p]] },
  { r:0, c:2, dom:[-6.73,2],  ticks:[0,-5],           yl:"||X(t)A(t)B(t) \u2212 B(t)||_F", fam:"PR", cap:["(c) NE 5.3: (PR-i) error","with λ = 10."], s:[["g",c_g],["p",c_p]] },
  { r:0, c:3, dom:[-17.3,-10],ticks:[-10,-12,-14,-16],yl:"||X(t) \u2212 B(t)B^\u2020(t)X(t)||_F", fam:"PR", cap:["(d) NE 5.3: (PR-ii)","error with λ = 10."], s:[["g",d_g],["p",d_p]] },
  { r:1, c:0, dom:[-8,5],     ticks:[5,0,-5],         yl:"Error", fam:"PR", cap:["(e) NE 5.3: GEMEs","error with λ = 100."], s:[["o",e_o],["g",e_g],["b",e_b],["p",e_p],["c",e_c]] },
  { r:1, c:1, dom:[-10,0],    ticks:[0,-5,-10],       yl:lab53, fam:"PR", cap:["(f) NE 5.3: (MP-ii)","error with λ = 100."], s:[["g",f_g],["p",f_p]] },
  { r:1, c:2, dom:[-5.7,2],   ticks:[0,-5],           yl:"||X(t)A(t)B(t) \u2212 B(t)||_F", fam:"PR", cap:["(g) NE 5.3: (PR-i)","error with λ = 100."], s:[["g",g_g],["p",g_p]] },
  { r:1, c:3, dom:[-18,-10],  ticks:[-10,-12,-14,-16],yl:"||X(t) \u2212 B(t)B^\u2020(t)X(t)||_F", fam:"PR", cap:["(h) NE 5.3: (PR-ii)","error with λ = 100."], s:[["g",h_g],["p",h_p]] },
  { r:2, c:0, dom:[-10,7],    ticks:[5,0,-5,-10],     yl:"Error", fam:"PK", cap:["(i) NE 5.4: GEMEs","error with λ = 10."], s:[["o",i_o],["g",i_g],["b",i_b],["p",i_p],["c",i_c]], shift:6 },
  { r:2, c:1, dom:[-10,0],    ticks:[0,-5,-10],       yl:lab53, fam:"PK", cap:["(j) NE 5.4: (MP-ii)","error with λ = 10."], s:[["g",j_g],["p",j_p]] },
  { r:2, c:2, dom:[-7.35,2.1],ticks:[0,-5],           yl:"||Q(t)A(t)X(t) \u2212 Q(t)||_F", fam:"PK", cap:["(k) NE 5.4: (PK-i)","error with λ = 10."], s:[["g",k_g],["p",k_p]] },
  { r:2, c:3, dom:[-17.2,-10],ticks:[-10,-12,-14,-16],yl:"||X(t) \u2212 X(t)Q^\u2020(t)Q(t)||_F", fam:"PK", cap:["(l) NE 5.4: (PK-ii)","error with λ = 10."], s:[["g",l_g],["p",l_p]] },
  { r:3, c:0, dom:[-8.5,5],   ticks:[5,0,-5],         yl:"Error", fam:"PK", cap:["(m) NE 5.4: GEMEs","error with λ = 100."], s:[["o",m_o],["g",m_g],["b",m_b],["p",m_p],["c",m_c]] },
  { r:3, c:1, dom:[-10,0],    ticks:[0,-5,-10],       yl:lab53, fam:"PK", cap:["(n) NE 5.4: (MP-ii)","error with λ = 100."], s:[["g",n_g],["p",n_p]] },
  { r:3, c:2, dom:[-6.5,2.05],ticks:[0,-5],           yl:"||Q(t)A(t)X(t) \u2212 Q(t)||_F", fam:"PK", cap:["(o) NE 5.4: (PK-i)","error with λ = 100."], s:[["g",o_g],["p",o_p]] },
  { r:3, c:3, dom:[-17.3,-10],ticks:[-10,-12,-14,-16],yl:"||X(t) \u2212 X(t)Q^\u2020(t)Q(t)||_F", fam:"PK", cap:["(p) NE 5.4: (PK-ii)","error with λ = 100."], s:[["g",p_g],["p",p_p]] }
];

// layout
var colL = [53, 367, 668, 982], colR = [308, 617, 923, 1231];
var rowT = [13, 327, 641, 955], PH = 194;
var ylabX = [14, 329, 631, 939];
var capX = [162, 470, 777, 1085];
var INK = "#262626";
var SERIF = "'Liberation Serif', 'DejaVu Serif', serif";
var SANS = "'Liberation Sans', Arial, sans-serif";

var svg = d3.select("body").append("svg").attr("width", 1252).attr("height", 1251);

// writes a small math string: letters italic, _x subscript, ^x superscript
function addMath(txt, str, fs) {
  var cur = 0;
  function put(s, off, size, ital) {
    txt.append("tspan").attr("dy", off - cur).attr("font-size", size)
      .attr("font-style", ital ? "italic" : "normal").text(s);
    cur = off;
  }
  for (var i = 0; i < str.length; i++) {
    var ch = str[i];
    if (ch === "_") { put(str[++i], fs * 0.3, fs * 0.7, false); }
    else if (ch === "^") { put(str[++i], -fs * 0.42, fs * 0.7, false); }
    else { put(ch, 0, fs, /[A-Za-z]/.test(ch)); }
  }
}

panels.forEach(function(p, k) {
  var x0 = colL[p.c] + (p.shift || 0), x1 = colR[p.c];
  var y0 = rowT[p.r], y1 = y0 + PH;
  var x = d3.scaleLinear().domain([0, 10]).range([x0, x1]);
  var y = d3.scaleLog().domain([Math.pow(10, p.dom[0]), Math.pow(10, p.dom[1])]).range([y1, y0]);
  var g = svg.append("g");
  var lw = (p.r === 1 || p.r === 3) && p.c < 3 ? 1.5 : 1.25;

  g.append("clipPath").attr("id", "cp" + k).append("rect")
    .attr("x", x0).attr("y", y0).attr("width", x1 - x0).attr("height", y1 - y0);
  var plot = g.append("g").attr("clip-path", "url(#cp" + k + ")");

  var line = d3.line()
    .x(function(v, i) { return x(T[i]); })
    .y(function(v) { return y(Math.pow(10, v)); });

  p.s.forEach(function(s) {
    plot.append("path")
      .attr("d", line(s[1]))
      .attr("fill", "none")
      .attr("stroke", sty[s[0]].color)
      .attr("stroke-width", lw)
      .attr("stroke-linejoin", "round")
      .attr("stroke-dasharray", sty[s[0]].dash);
  });

  // ticks inside the box, on all four sides
  var decades = d3.range(Math.ceil(p.dom[0]), Math.floor(p.dom[1]) + 1).map(function(e) { return Math.pow(10, e); });
  var xb = g.append("g").attr("transform", "translate(0," + y1 + ")")
    .call(d3.axisBottom(x).tickValues(xTicks).tickSizeInner(-3).tickSizeOuter(0).tickPadding(5));
  var xt = g.append("g").attr("transform", "translate(0," + y0 + ")")
    .call(d3.axisTop(x).tickValues(xTicks).tickSizeInner(-3).tickSizeOuter(0).tickFormat(""));
  var yl = g.append("g").attr("transform", "translate(" + x0 + ",0)")
    .call(d3.axisLeft(y).tickValues(decades).tickSizeInner(-2.5).tickSizeOuter(0).tickFormat(""));
  var yr = g.append("g").attr("transform", "translate(" + x1 + ",0)")
    .call(d3.axisRight(y).tickValues(decades).tickSizeInner(-2.5).tickSizeOuter(0).tickFormat(""));
  [xb, xt, yl, yr].forEach(function(a) {
    a.select(".domain").remove();
    a.selectAll("line").attr("stroke", INK).attr("stroke-width", 0.7);
  });
  xb.selectAll("text").attr("font-family", SANS).attr("font-size", 12).attr("fill", INK);

  g.append("rect").attr("x", x0).attr("y", y0).attr("width", x1 - x0).attr("height", y1 - y0)
    .attr("fill", "none").attr("stroke", INK).attr("stroke-width", 0.8);

  // log tick labels 10^e
  p.ticks.forEach(function(e) {
    var t = g.append("text").attr("x", x0 - 3).attr("y", y(Math.pow(10, e)) + 4)
      .attr("text-anchor", "end").attr("font-family", SANS).attr("fill", INK);
    t.append("tspan").attr("font-size", 12).text("10");
    t.append("tspan").attr("font-size", 8.5).attr("dy", -6).text(e === 0 ? "0" : (e < 0 ? "-" + (-e) : String(e)));
  });

  // axis titles
  g.append("text").attr("x", (x0 + x1) / 2).attr("y", y1 + 32)
    .attr("text-anchor", "middle").attr("font-family", SERIF).attr("font-size", 16)
    .attr("letter-spacing", 0.6).attr("fill", INK).text("Time");
  var lx = (p.c === 0 && p.shift) ? ylabX[0] - 1 : ylabX[p.c];
  var yt = g.append("text")
    .attr("transform", "translate(" + (lx + 5) + "," + ((y0 + y1) / 2) + ") rotate(-90)")
    .attr("text-anchor", "middle").attr("font-family", SERIF).attr("fill", INK);
  if (p.yl === "Error") {
    yt.attr("font-size", 16).text("Error");
  } else {
    yt.attr("letter-spacing", 1.5);
    addMath(yt, p.yl, 16.5);
  }

  // legend
  var n1 = "ZNN" + p.fam + "1", n2 = "ZNN" + p.fam + "2";
  var lg = g.append("g");
  if (p.s.length === 5) {
    var names = [n1, n1, n2, n2, n2];
    var norms = ["||E_1(t)||_F", "||E_2(t)||_F", "||E_1(t)||_F", "||E_2(t)||_F", "||E_3(t)||_F"];
    var bx = x1 - 136, by = y0 + 4;
    lg.append("rect").attr("x", bx).attr("y", by).attr("width", 131).attr("height", 73)
      .attr("fill", "#fff").attr("stroke", INK).attr("stroke-width", 0.7);
    p.s.forEach(function(s, i) {
      var yy = by + 7.5 + i * 14.3;
      lg.append("line").attr("x1", bx + 3).attr("x2", bx + 28).attr("y1", yy).attr("y2", yy)
        .attr("stroke", sty[s[0]].color).attr("stroke-width", 1.2).attr("stroke-dasharray", sty[s[0]].dash);
      lg.append("text").attr("x", bx + 30).attr("y", yy + 4).attr("font-family", SERIF)
        .attr("font-size", 11.5).attr("fill", INK).text(names[i] + ":");
      var mt = lg.append("text").attr("x", bx + 83).attr("y", yy + 4).attr("font-family", SERIF)
        .attr("letter-spacing", 0.7).attr("fill", INK);
      addMath(mt, norms[i], 12);
    });
  } else {
    var bx2 = x1 - 84, by2 = y0 + 5;
    lg.append("rect").attr("x", bx2).attr("y", by2).attr("width", 77).attr("height", 32)
      .attr("fill", "#fff").attr("stroke", INK).attr("stroke-width", 0.7);
    [n1, n2].forEach(function(nm, i) {
      var yy = by2 + 8.5 + i * 15;
      var st = sty[p.s[i][0]];
      lg.append("line").attr("x1", bx2 + 2).attr("x2", bx2 + 27).attr("y1", yy).attr("y2", yy)
        .attr("stroke", st.color).attr("stroke-width", 1.2).attr("stroke-dasharray", st.dash);
      lg.append("text").attr("x", bx2 + 29).attr("y", yy + 4).attr("font-family", SERIF)
        .attr("font-size", 11).attr("fill", INK).text(nm);
    });
  }

  // caption under the panel
  p.cap.forEach(function(line, i) {
    var ct = svg.append("text").attr("x", capX[p.c]).attr("y", y0 + 266 + i * 25)
      .attr("text-anchor", "middle").attr("font-family", SERIF).attr("font-size", 21)
      .attr("letter-spacing", 0.8).attr("fill", "#111");
    line.split("λ").forEach(function(part, j) {
      if (j > 0) ct.append("tspan").attr("font-style", "italic").text("λ");
      ct.append("tspan").text(part);
    });
  });
});
</script>
</body>
</html>
